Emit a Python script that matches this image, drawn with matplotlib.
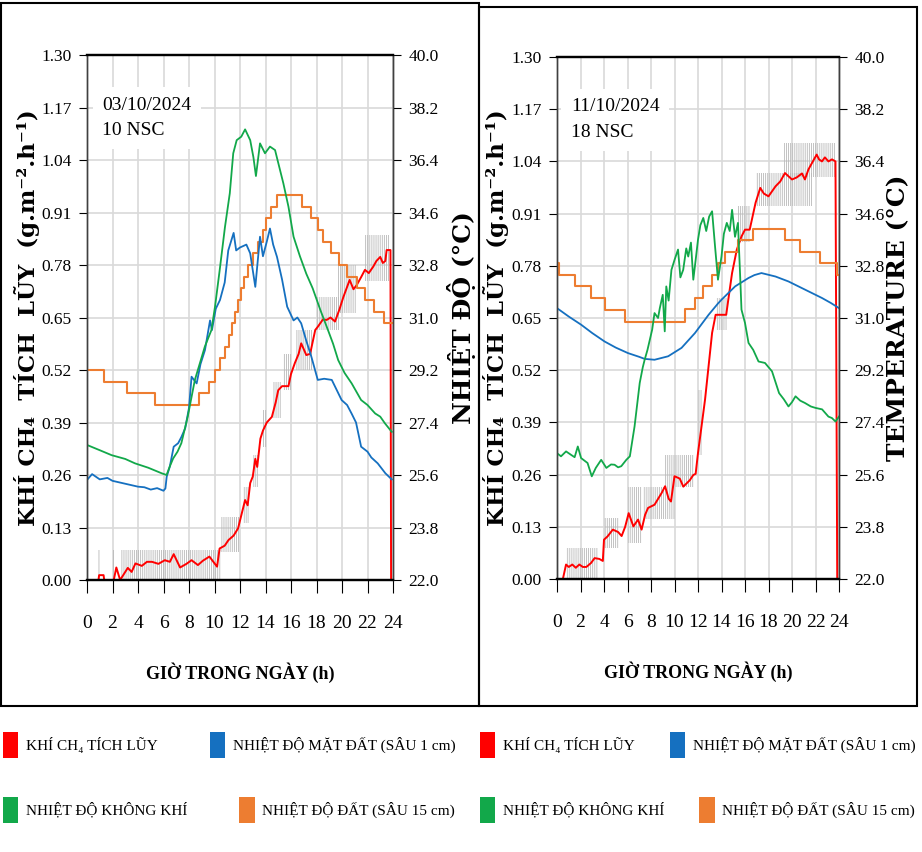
import matplotlib
matplotlib.use("Agg")
import matplotlib.pyplot as plt
from matplotlib.patches import Patch, Rectangle

plt.rcParams['font.family'] = ['Liberation Serif', 'DejaVu Serif']
plt.rcParams['hatch.linewidth'] = 0.6

W, H = 922, 852

# colours
c_ch4 = '#ff0000'
c_raw = '#b8b8b8'
c_surf = '#1570c0'
c_air = '#12a84a'
c_soil = '#ed7d31'

legend_labels = ['KHÍ CH₄ TÍCH LŨY', 'NHIỆT ĐỘ MẶT ĐẤT (SÂU 1 cm)',
                 'NHIỆT ĐỘ KHÔNG KHÍ', 'NHIỆT ĐỘ ĐẤT (SÂU 15 cm)']

hour_ticks = list(range(0, 25, 2))
ch4_ticks = [0.00, 0.13, 0.26, 0.39, 0.52, 0.65, 0.78, 0.91, 1.04, 1.17, 1.30]
temp_ticks = [22.0, 23.8, 25.6, 27.4, 29.2, 31.0, 32.8, 34.6, 36.4, 38.2, 40.0]

# ---------------- 03/10/2024 - 10 NSC ----------------
ch4_h_1 = [0, 0.9, 0.95, 1.3, 1.35, 2.1, 2.3, 2.6, 3.2, 3.5, 3.8, 4.3, 4.7, 5.1, 5.6,
           6.1, 6.5, 6.8, 7.3, 7.8, 8.2, 8.7, 9.1, 9.6, 10.2, 10.4, 10.8, 11.1, 11.5,
           11.85, 12.1, 12.4, 12.6, 12.8, 13.0, 13.2, 13.35, 13.6, 13.8, 14.1, 14.5,
           14.8, 15.0, 15.3, 15.8, 16.0, 16.3, 16.6, 16.8, 17.2, 17.5, 17.9, 18.1,
           18.5, 18.8, 19.1, 19.45, 19.8, 20.1, 20.6, 20.9, 21.15, 21.5, 21.8, 22.1,
           22.45, 22.7, 23.0, 23.2, 23.4, 23.5, 23.8, 23.85]
ch4_v_1 = [0, 0, 0.012, 0.012, 0, 0, 0.031, 0.0, 0.03, 0.02, 0.041, 0.035, 0.045, 0.045,
           0.04, 0.049, 0.045, 0.064, 0.031, 0.04, 0.049, 0.037, 0.048, 0.058, 0.033,
           0.078, 0.085, 0.099, 0.11, 0.128, 0.16, 0.198, 0.185, 0.24, 0.256, 0.30, 0.28,
           0.35, 0.37, 0.39, 0.404, 0.44, 0.47, 0.48, 0.48, 0.51, 0.537, 0.56, 0.586,
           0.557, 0.56, 0.619, 0.627, 0.645, 0.644, 0.65, 0.64, 0.67, 0.70, 0.743, 0.72,
           0.73, 0.75, 0.768, 0.76, 0.776, 0.79, 0.80, 0.785, 0.79, 0.817, 0.817, 0.0]
raw_x0_1 = [0.85, 2.0, 2.7, 10.5, 12.2, 13.0, 13.7, 14.6, 15.4, 16.4, 18.0, 19.7, 21.8]
raw_x1_1 = [1.0, 2.2, 10.5, 11.9, 12.7, 13.4, 14.1, 15.2, 16.0, 17.7, 19.8, 21.1, 23.7]
raw_lo_1 = [0.0, 0.0, 0.0, 0.07, 0.14, 0.23, 0.33, 0.40, 0.47, 0.52, 0.62, 0.66, 0.74]
raw_hi_1 = [0.074, 0.074, 0.074, 0.155, 0.23, 0.31, 0.42, 0.49, 0.56, 0.62, 0.70, 0.78, 0.855]

surf_h_1 = [0, 0.4, 1.0, 1.6, 2.0, 2.6, 3.0, 3.5, 4.0, 4.5, 5.0, 5.5, 6.0, 6.15, 6.25,
            6.5, 6.8, 7.15, 7.4, 7.7, 8.0, 8.2, 8.6, 8.9, 9.25, 9.65, 9.8, 10.1, 10.43,
            10.8, 11.08, 11.5, 11.7, 12.0, 12.5, 12.8, 13.2, 13.57, 13.8, 14.1, 14.35,
            14.6, 14.9, 15.3, 15.7, 16.2, 16.5, 16.8, 17.2, 17.6, 18.1, 18.6, 19.2,
            19.97, 20.4, 20.76, 21.1, 21.5, 22.0, 22.3, 22.8, 23.4, 23.9]
surf_t_1 = [25.43, 25.63, 25.45, 25.5, 25.4, 25.34, 25.3, 25.25, 25.2, 25.18, 25.1,
            25.15, 25.06, 25.14, 25.54, 25.9, 26.57, 26.69, 26.9, 27.2, 27.9, 28.97,
            28.74, 29.4, 29.88, 30.9, 30.57, 31.3, 31.6, 32.2, 33.3, 33.9, 33.3, 33.4,
            33.5, 33.2, 32.05, 33.77, 33.1, 33.6, 34.05, 33.5, 33.08, 32.3, 31.37, 30.9,
            31.0, 30.8, 30.2, 29.65, 28.86, 28.9, 28.86, 28.17, 28.0, 27.7, 27.4, 26.57,
            26.4, 26.2, 26.0, 25.66, 25.45]

air_h_1 = [0, 1.0, 1.93, 3.0, 3.76, 4.8, 5.85, 6.24, 6.5, 6.76, 7.1, 7.4, 7.9, 8.46,
           8.9, 9.24, 9.76, 10.04, 10.4, 10.82, 11.2, 11.47, 11.74, 12.1, 12.4, 12.8,
           13.05, 13.25, 13.57, 13.96, 14.35, 14.75, 15.0, 15.4, 15.8, 16.2, 16.7, 17.2,
           17.7, 18.3, 18.9, 19.3, 19.7, 20.2, 20.76, 21.5, 22.0, 22.6, 23.0, 23.37, 23.9]
air_t_1 = [26.63, 26.45, 26.28, 26.15, 26.0, 25.85, 25.66, 25.6, 25.9, 26.17, 26.4,
           26.69, 27.6, 28.86, 29.5, 30.0, 30.57, 31.37, 32.6, 34.1, 35.26, 36.63, 37.08,
           37.2, 37.45, 37.08, 36.5, 35.85, 36.97, 36.63, 36.86, 36.74, 36.3, 35.6, 34.8,
           33.77, 33.1, 32.5, 32.0, 31.26, 30.57, 30.1, 29.54, 29.1, 28.74, 28.17, 28.0,
           27.71, 27.6, 27.37, 27.08]

soil_h_1 = [0, 1.36, 3.1, 5.33, 8.8, 9.56, 10.0, 10.4, 10.8, 11.1, 11.35, 11.6, 11.85,
            12.1, 12.35, 12.65, 13.0, 13.4, 13.8, 14.05, 14.45, 14.9, 16.9, 17.55, 18.1,
            18.5, 19.1, 19.8, 20.4, 21.2, 21.8, 22.5, 23.3, 23.9]
soil_t_1 = [29.2, 28.8, 28.4, 28.0, 28.4, 28.8, 29.2, 29.6, 30.0, 30.4, 30.8, 31.2,
            31.6, 32.0, 32.4, 32.8, 33.2, 33.6, 34.0, 34.4, 34.8, 35.2, 34.8, 34.4, 34.0,
            33.6, 33.2, 32.8, 32.4, 32.0, 31.6, 31.2, 30.8, 30.8]

# ---------------- 11/10/2024 - 18 NSC ----------------
ch4_h_2 = [0, 0.5, 0.77, 1.0, 1.3, 1.6, 1.9, 2.2, 2.5, 2.9, 3.2, 3.6, 3.9, 4.0, 4.3,
           4.75, 5.2, 5.5, 5.8, 6.1, 6.5, 6.9, 7.2, 7.5, 7.75, 8.3, 8.9, 9.2, 9.5, 9.7,
           10.0, 10.45, 10.75, 11.3, 11.6, 11.8, 12.0, 12.3, 12.6, 12.9, 13.2, 13.5,
           14.4, 14.6, 14.9, 15.3, 15.7, 16.0, 16.4, 16.9, 17.3, 17.6, 18.0, 18.6, 19.0,
           19.4, 20.0, 20.4, 20.85, 21.1, 21.4, 21.7, 22.1, 22.3, 22.55, 22.8, 23.1,
           23.4, 23.7, 23.85]
ch4_v_2 = [0, 0, 0.036, 0.03, 0.036, 0.028, 0.036, 0.03, 0.03, 0.04, 0.052, 0.05, 0.045,
           0.098, 0.106, 0.123, 0.117, 0.107, 0.13, 0.164, 0.131, 0.148, 0.123, 0.16,
           0.177, 0.185, 0.214, 0.231, 0.2, 0.193, 0.256, 0.25, 0.23, 0.246, 0.259,
           0.262, 0.314, 0.38, 0.447, 0.53, 0.613, 0.658, 0.658, 0.7, 0.762, 0.82,
           0.853, 0.87, 0.87, 0.937, 0.974, 0.96, 0.953, 0.978, 0.99, 1.011, 0.995, 1.0,
           1.01, 0.995, 1.02, 1.036, 1.057, 1.045, 1.04, 1.05, 1.04, 1.045, 1.04, 0.0]
raw_x0_2 = [0.8, 4.0, 6.0, 7.3, 9.2, 12.0, 13.5, 15.4, 16.9, 19.3]
raw_x1_2 = [3.5, 5.3, 7.2, 10.0, 11.7, 12.3, 14.5, 16.4, 21.7, 23.7]
raw_lo_2 = [0.0, 0.077, 0.09, 0.15, 0.23, 0.31, 0.62, 0.84, 0.93, 1.0]
raw_hi_2 = [0.077, 0.152, 0.23, 0.23, 0.31, 0.47, 0.70, 0.93, 1.01, 1.086]

surf_h_2 = [0, 1.0, 2.05, 3.0, 4.05, 5.0, 6.04, 7.0, 7.46, 8.3, 9.46, 10.6, 11.74, 12.9,
            13.7, 14.0, 15.16, 16.3, 16.8, 17.4, 18.6, 19.7, 20.5, 21.4, 22.55, 23.3, 24.0]
surf_t_2 = [31.34, 31.05, 30.77, 30.48, 30.19, 29.98, 29.79, 29.66, 29.59, 29.56, 29.68,
            29.97, 30.48, 31.11, 31.5, 31.63, 32.09, 32.38, 32.48, 32.55, 32.43, 32.26,
            32.1, 31.92, 31.69, 31.52, 31.34]

air_h_2 = [0, 0.34, 0.77, 1.2, 1.5, 1.77, 2.05, 2.6, 2.96, 3.3, 3.76, 4.2, 4.6, 4.9, 5.2,
           5.47, 5.9, 6.2, 6.6, 7.04, 7.3, 7.46, 7.7, 7.9, 8.1, 8.3, 8.6, 8.75, 9.0,
           9.17, 9.3, 9.5, 9.74, 10.0, 10.3, 10.5, 10.74, 11.0, 11.17, 11.4, 11.6, 11.8,
           12.0, 12.2, 12.45, 12.7, 12.95, 13.2, 13.45, 13.7, 14.0, 14.2, 14.45, 14.7,
           14.9, 15.15, 15.4, 15.6, 15.7, 16.0, 16.3, 16.7, 17.15, 17.7, 18.3, 18.9,
           19.3, 19.7, 20.0, 20.3, 20.7, 21.1, 21.6, 22.0, 22.56, 23.1, 23.4, 23.7, 24.0]
air_t_2 = [26.34, 26.23, 26.4, 26.28, 26.2, 26.57, 26.17, 26.0, 25.54, 25.83, 26.11,
           25.83, 25.95, 25.94, 25.85, 25.89, 26.11, 26.23, 27.26, 28.76, 29.3, 29.56,
           29.9, 30.25, 30.6, 31.17, 31.0, 31.34, 31.8, 30.54, 32.09, 31.6, 32.66, 33.0,
           33.36, 32.4, 32.66, 33.4, 33.12, 33.6, 32.32, 33.0, 33.7, 34.2, 34.45, 34.0,
           34.5, 34.68, 33.47, 32.32, 33.12, 33.9, 34.28, 34.0, 34.73, 33.8, 34.28,
           32.32, 31.29, 30.83, 30.14, 29.9, 29.5, 29.45, 29.16, 28.41, 28.2, 27.95,
           28.1, 28.3, 28.15, 28.07, 27.95, 27.9, 27.85, 27.6, 27.55, 27.43, 27.6]

soil_h_2 = [0, 0.2, 1.5, 2.9, 4.05, 5.75, 10.88, 11.73, 12.44, 13.15, 13.7, 14.27, 15.4,
            16.7, 19.4, 20.7, 22.4, 23.8, 24.0]
soil_t_2 = [32.9, 32.49, 32.09, 31.69, 31.26, 30.87, 31.3, 31.69, 32.1, 32.47, 32.88,
            33.27, 33.68, 34.08, 33.68, 33.27, 32.88, 32.47, 32.47]

label_font = ['DejaVu Serif']


def draw_panel(ax, ch4_h, ch4_v, rx0, rx1, rlo, rhi, surf_h, surf_t, air_h, air_t,
               soil_h, soil_t, note, right_label):
    ax.set_xlim(0, 24)
    ax.set_ylim(0, 1.30)
    ax.set_xticks(hour_ticks)
    ax.set_yticks(ch4_ticks)
    ax.set_yticklabels([f'{v:.2f}' for v in ch4_ticks])
    ax.grid(True, color='#d9d9d9', lw=1.2, zorder=0)
    ax.set_axisbelow(True)

    # raw CH4 readings (grey spikes)
    for a, b, lo, hi in zip(rx0, rx1, rlo, rhi):
        ax.fill_between([a, b], [lo, lo], [hi, hi], facecolor='none',
                        edgecolor=c_raw, hatch='||||||||', linewidth=0, zorder=1)
    ax.plot(ch4_h, ch4_v, color=c_ch4, lw=1.4, zorder=2)

    tx = ax.twinx()
    tx.set_ylim(22.0, 40.0)
    tx.set_yticks(temp_ticks)
    tx.set_yticklabels([f'{v:.1f}' for v in temp_ticks])
    tx.plot(soil_h, soil_t, color=c_soil, lw=1.5, drawstyle='steps-post')
    tx.plot(surf_h, surf_t, color=c_surf, lw=1.3)
    tx.plot(air_h, air_t, color=c_air, lw=1.3)

    for a in (ax, tx):
        for s in ('top', 'bottom'):
            a.spines[s].set_linewidth(1.6)
            a.spines[s].set_color('black')
        for s in ('left', 'right'):
            a.spines[s].set_linewidth(1.0)
            a.spines[s].set_color('#404040')
    ax.tick_params(axis='y', direction='out', length=6, pad=5, labelsize=12.5)
    ax.tick_params(axis='x', direction='out', length=9, pad=16, labelsize=14)
    tx.tick_params(axis='y', direction='out', length=6, pad=5, labelsize=12.5)

    ax.set_xlabel('GIỜ TRONG NGÀY (h)', fontsize=13, fontweight='bold', labelpad=22)
    ax.text(0.05, 0.88, note, transform=ax.transAxes, fontsize=14, va='center',
            ha='left', linespacing=1.65, zorder=5,
            bbox=dict(boxstyle='square,pad=0.5', fc='white', ec='none'))
    ax.set_ylabel('KHÍ CH₄  TÍCH  LŨY  (g.m⁻².h⁻¹)', fontsize=16.5, fontweight='bold',
                  family=label_font)
    ax.yaxis.label.set_va('center')
    tx.set_ylabel(right_label, fontsize=18, fontweight='bold', family=label_font,
                  rotation=90)
    tx.yaxis.label.set_va('center')
    return tx


fig = plt.figure(figsize=(W / 100, H / 100), dpi=100)

# panel frames
fig.patches.append(Rectangle((1 / W, 146 / H), 478 / W, 703 / H, transform=fig.transFigure,
                             fill=False, ec='black', lw=1.5))
fig.patches.append(Rectangle((479 / W, 146 / H), 438 / W, 699 / H, transform=fig.transFigure,
                             fill=False, ec='black', lw=1.5))

ax1 = fig.add_axes([87 / W, 272 / H, 306 / W, 525 / H])
tx1 = draw_panel(ax1, ch4_h_1, ch4_v_1, raw_x0_1, raw_x1_1, raw_lo_1, raw_hi_1,
                 surf_h_1, surf_t_1, air_h_1, air_t_1, soil_h_1, soil_t_1,
                 '03/10/2024\n10 NSC', 'NHIỆT ĐỘ (°C)')
ax1.yaxis.set_label_coords((27 - 87) / 306, 0.5)
tx1.yaxis.set_label_coords((461 - 87) / 306, 0.5)

ax2 = fig.add_axes([557 / W, 273 / H, 282 / W, 522 / H])
tx2 = draw_panel(ax2, ch4_h_2, ch4_v_2, raw_x0_2, raw_x1_2, raw_lo_2, raw_hi_2,
                 surf_h_2, surf_t_2, air_h_2, air_t_2, soil_h_2, soil_t_2,
                 '11/10/2024\n18 NSC', 'TEMPERATURE (°C)')
ax2.yaxis.set_label_coords((496 - 557) / 282, 0.5)
tx2.yaxis.set_label_coords((898 - 557) / 282, 0.5)

# legends (one per row and per panel)
cols = [c_ch4, c_surf, c_air, c_soil]
for x0, gap in ((3, 3.4), (480, 2.3)):
    for row, yc in ((0, 745), (1, 810)):
        hs = [Patch(facecolor=cols[2 * row + k], edgecolor='none') for k in range(2)]
        fig.legend(hs, legend_labels[2 * row:2 * row + 2], ncol=2, loc='center left',
                   bbox_to_anchor=(x0 / W, 1 - yc / H), frameon=False, fontsize=11,
                   handlelength=1.0, handleheight=2.2, handletextpad=0.5,
                   columnspacing=gap, borderpad=0, borderaxespad=0)

fig.savefig('out.png', dpi=100)
